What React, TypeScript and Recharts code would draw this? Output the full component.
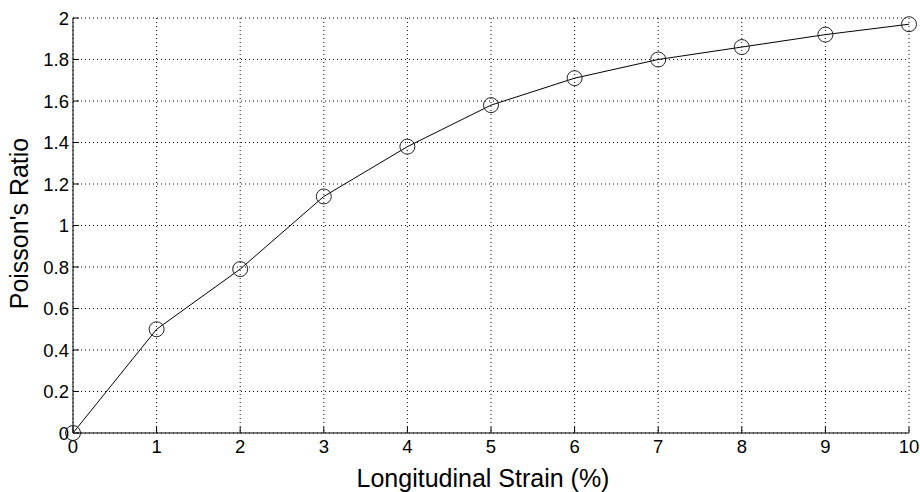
import React from "react";
import {
    LineChart,
    Line,
    XAxis,
    YAxis,
    CartesianGrid,
} from "recharts";

// values
const strain = [0, 1, 2, 3, 4, 5, 6, 7, 8, 9, 10];
const poisson = [0, 0.5, 0.79, 1.14, 1.38, 1.58, 1.71, 1.8, 1.86, 1.92, 1.97];
const xTicks = [0, 1, 2, 3, 4, 5, 6, 7, 8, 9, 10];
const yTicks = [0, 0.2, 0.4, 0.6, 0.8, 1, 1.2, 1.4, 1.6, 1.8, 2];

const data = strain.map((s, i) => ({ strain: s, ratio: poisson[i] }));

const FONT = "'Liberation Sans', Arial, sans-serif";
const TICK_LEN = 6;
const TICK_FONT = 18.5;
const LABEL_FONT = 25;

// matlab style: tick marks point into the plot
const BottomTick = (props: any) => {
    const { x, y, payload } = props;
    const base = y - 8;
    return (
        <g>
            <line x1={x} y1={base} x2={x} y2={base - TICK_LEN} stroke="#000" />
            <text x={x} y={base + 7} dy="0.71em" textAnchor="middle" fontSize={TICK_FONT} fontFamily={FONT} fill="#000">
                {payload.value}
            </text>
        </g>
    );
};

const LeftTick = (props: any) => {
    const { x, y, payload } = props;
    const base = x + 3;
    return (
        <g>
            <line x1={base} y1={y} x2={base + TICK_LEN} y2={y} stroke="#000" />
            <text x={base - 4} y={y} dy="0.355em" textAnchor="end" fontSize={TICK_FONT} fontFamily={FONT} fill="#000">
                {payload.value}
            </text>
        </g>
    );
};

const TopTick = (props: any) => {
    const { x, y } = props;
    return <line x1={x} y1={y} x2={x} y2={y + TICK_LEN} stroke="#000" />;
};

const RightTick = (props: any) => {
    const { x, y } = props;
    return <line x1={x} y1={y} x2={x - TICK_LEN} y2={y} stroke="#000" />;
};

const Marker = (props: any) => {
    const { cx, cy } = props;
    return <circle cx={cx} cy={cy} r={7.5} fill="none" stroke="#222" strokeWidth={1} />;
};

export default function App() {
    return (
        <div style={{ position: "absolute", left: 0, top: 0, background: "#fff" }}>
            <LineChart
                width={920}
                height={492}
                data={data}
                margin={{ top: 18, right: 11, left: 0, bottom: 0 }}
            >
                <CartesianGrid stroke="#000" strokeDasharray="1 3" />
                <XAxis
                    dataKey="strain"
                    type="number"
                    domain={[0, 10]}
                    ticks={xTicks}
                    height={59}
                    tickSize={0}
                    tickMargin={8}
                    tickLine={false}
                    axisLine={{ stroke: "#000" }}
                    tick={<BottomTick />}
                    label={{
                        content: (p: any) => {
                            const vb = p.viewBox;
                            return (
                                <text
                                    x={vb.x + vb.width / 2 - 8}
                                    y={487}
                                    textAnchor="middle"
                                    fontSize={LABEL_FONT}
                                    fontFamily={FONT}
                                    fill="#000"
                                >
                                    Longitudinal Strain (%)
                                </text>
                            );
                        },
                    }}
                />
                <XAxis
                    xAxisId="top"
                    dataKey="strain"
                    type="number"
                    orientation="top"
                    domain={[0, 10]}
                    ticks={xTicks}
                    height={0}
                    tickSize={0}
                    tickLine={false}
                    axisLine={{ stroke: "#000" }}
                    tick={<TopTick />}
                />
                <YAxis
                    type="number"
                    domain={[0, 2]}
                    ticks={yTicks}
                    width={73}
                    tickSize={0}
                    tickMargin={3}
                    tickLine={false}
                    axisLine={{ stroke: "#000" }}
                    tick={<LeftTick />}
                    label={{
                        content: (p: any) => {
                            const vb = p.viewBox;
                            const bx = 28;
                            const cy = vb.y + vb.height / 2 - 2;
                            return (
                                <text
                                    x={bx}
                                    y={cy}
                                    transform={`rotate(-90 ${bx} ${cy})`}
                                    textAnchor="middle"
                                    fontSize={LABEL_FONT}
                                    fontFamily={FONT}
                                    fill="#000"
                                >
                                    Poisson's Ratio
                                </text>
                            );
                        },
                    }}
                />
                <YAxis
                    yAxisId="right"
                    type="number"
                    orientation="right"
                    domain={[0, 2]}
                    ticks={yTicks}
                    width={0}
                    tickSize={0}
                    tickLine={false}
                    axisLine={{ stroke: "#555" }}
                    tick={<RightTick />}
                />
                <Line
                    type="linear"
                    dataKey="ratio"
                    stroke="#000"
                    strokeWidth={1}
                    dot={<Marker />}
                    activeDot={false}
                    isAnimationActive={false}
                />
            </LineChart>
        </div>
    );
}
